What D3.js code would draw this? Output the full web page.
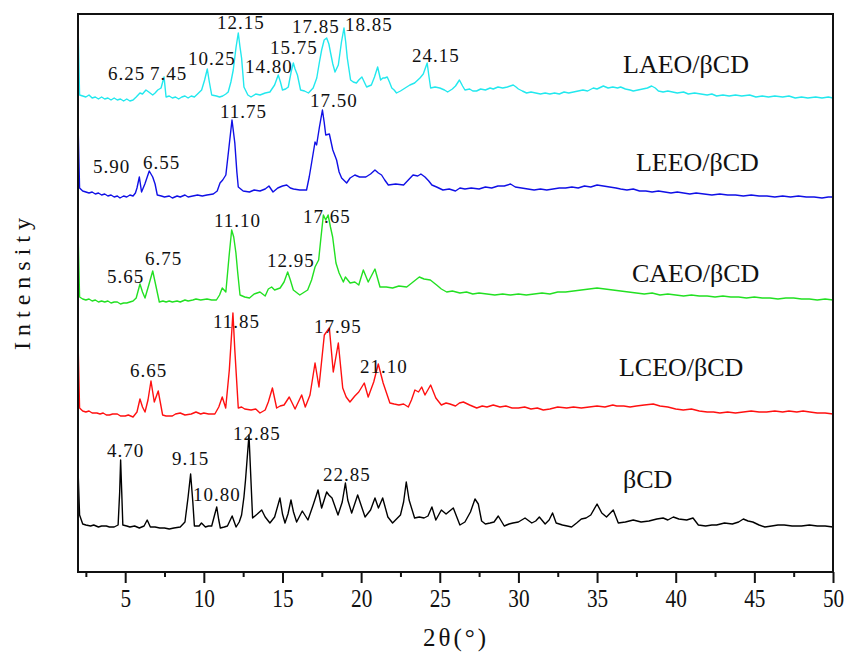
<!DOCTYPE html>
<html><head><meta charset="utf-8">
<script src="https://cdn.jsdelivr.net/npm/d3@7/dist/d3.min.js"></script>
<style>body{margin:0;background:#fff}</style>
</head><body>
<svg id="chart" width="846" height="655"></svg>
<script>
// ---------- data (2θ in degrees, stacked intensity in a.u.) ----------
const xMajorTicks = [5,10,15,20,25,30,35,40,45,50];
const xMinorTicks = [2.5,7.5,12.5,17.5,22.5,27.5,32.5,37.5,42.5,47.5];
const seriesNames = ["LAEO/βCD","LEEO/βCD","CAEO/βCD","LCEO/βCD","βCD"];
const seriesColors = ["#22e8ee","#1010e6","#22e022","#ff1010","#000000"];

const laeo = [[2.02,534],[2.1,477],[2.3,476],[2.5,475],[2.7,477],[2.9,474],[3.1,475],[3.3,473],[3.5,475],[3.7,473],[3.9,474],[4.1,472],[4.3,474],[4.5,472],[4.7,473],[4.9,471],[5.1,473],[5.3,471],[5.5,472],[5.7,475],[5.94,479],[6.1,478],[6.32,482],[6.5,480],[6.75,477],[6.9,479],[7.07,482],[7.28,484],[7.47,495],[7.6,475],[7.8,476],[8.0,474],[8.2,475],[8.4,473],[8.6,475],[8.8,476],[9.0,474],[9.2,476],[9.4,475],[9.6,478],[9.86,482],[10.05,492],[10.22,503],[10.35,490],[10.5,477],[10.8,476],[11.0,475],[11.2,476],[11.4,478],[11.55,480],[11.72,490],[11.87,502],[12.05,525],[12.19,539],[12.3,525],[12.4,514],[12.55,485],[12.8,477],[13.0,475],[13.3,478],[13.57,477],[13.9,479],[14.2,480],[14.5,487],[14.73,497],[14.87,490],[15.0,482],[15.2,483],[15.37,485],[15.55,500],[15.69,509],[15.8,503],[15.95,497],[16.15,482],[16.4,481],[16.65,479],[16.95,484],[17.18,494],[17.35,510],[17.49,522],[17.65,532],[17.81,534],[17.95,528],[18.06,519],[18.2,508],[18.34,500],[18.55,507],[18.75,530],[18.91,544],[19.02,530],[19.12,514],[19.33,492],[19.5,490],[19.7,489],[19.85,492],[20.05,495],[20.2,490],[20.35,485],[20.5,486],[20.65,487],[20.85,495],[21.05,505],[21.24,492],[21.38,494],[21.5,494],[21.66,495],[21.8,490],[21.95,484],[22.1,482],[22.25,479],[22.5,481],[22.8,484],[23.1,487],[23.4,489],[23.74,494],[23.95,498],[24.2,509],[24.3,497],[24.42,484],[24.7,485],[25.0,484],[25.3,482],[25.5,480],[25.8,483],[26.0,486],[26.25,492],[26.45,486],[26.6,482],[26.9,483],[27.1,481],[27.34,481],[27.6,483],[27.9,482],[28.2,484],[28.4,483],[28.7,485],[29.0,484],[29.3,485],[29.67,487],[29.85,485],[30.0,483],[30.25,481],[30.52,479],[30.8,480],[31.1,479],[31.4,478],[31.7,479],[32.0,478],[32.3,479],[32.6,478],[32.9,480],[33.2,479],[33.5,480],[33.8,481],[34.1,482],[34.4,481],[34.76,484],[35.0,483],[35.4,486],[35.7,484],[36.0,485],[36.3,484],[36.5,485],[36.8,483],[37.1,482],[37.3,481],[37.6,482],[37.9,483],[38.2,484],[38.47,486],[38.7,484],[38.9,481],[39.2,480],[39.5,481],[39.8,480],[40.1,479],[40.5,480],[40.8,478],[41.2,479],[41.6,478],[42.0,477],[42.3,478],[42.6,476],[43.0,477],[43.4,476],[43.8,477],[44.2,476],[44.7,477],[45.1,475],[45.5,476],[45.9,475],[46.3,476],[46.8,475],[47.2,476],[47.6,474],[48.0,475],[48.4,474],[48.9,475],[49.3,474],[49.7,475],[50.0,474]];

const leeo = [[2.02,437],[2.1,384],[2.3,381],[2.5,380],[2.7,379],[2.9,380],[3.1,378],[3.3,379],[3.5,377],[3.7,378],[3.9,376],[4.1,377],[4.3,375],[4.5,376],[4.67,374],[4.9,376],[5.1,375],[5.3,377],[5.5,376],[5.65,379],[5.75,384],[5.9,395],[6.04,380],[6.25,388],[6.53,401],[6.75,395],[6.9,388],[7.04,377],[7.3,376],[7.5,375],[7.8,376],[8.0,374],[8.3,376],[8.5,375],[8.8,377],[9.0,375],[9.3,376],[9.6,377],[9.9,376],[10.2,377],[10.6,378],[10.85,381],[11.03,389],[11.2,392],[11.4,397],[11.6,425],[11.79,452],[11.97,429],[12.1,400],[12.19,385],[12.5,381],[12.9,380],[13.2,382],[13.57,381],[13.9,383],[14.14,386],[14.4,380],[14.7,384],[15.0,386],[15.27,387],[15.5,384],[15.7,383],[16.1,382],[16.53,382],[16.7,395],[16.85,409],[17.07,430],[17.17,427],[17.35,445],[17.54,462],[17.65,450],[17.75,437],[17.98,438],[18.2,422],[18.44,412],[18.6,400],[18.76,394],[19.08,389],[19.3,394],[19.6,397],[19.9,395],[20.3,395],[20.6,398],[20.88,402],[21.1,399],[21.3,397],[21.5,392],[21.73,387],[22.2,388],[22.7,387],[23.0,392],[23.3,397],[23.6,396],[23.8,398],[24.06,395],[24.3,391],[24.5,387],[24.8,385],[25.2,382],[25.6,383],[26.0,381],[26.28,384],[26.6,383],[27.0,384],[27.5,383],[27.9,385],[28.3,384],[28.7,386],[29.1,386],[29.5,388],[29.8,385],[30.2,384],[30.6,383],[31.0,382],[31.4,383],[31.8,382],[32.2,383],[32.6,384],[33.0,384],[33.4,385],[33.8,384],[34.2,386],[34.6,385],[35.0,387],[35.4,386],[35.8,385],[36.2,384],[36.5,383],[36.9,382],[37.3,383],[37.7,381],[38.1,381],[38.5,380],[38.9,381],[39.3,380],[39.7,379],[40.1,380],[40.5,379],[40.9,378],[41.3,379],[41.8,378],[42.3,377],[42.8,378],[43.3,377],[43.8,377],[44.3,376],[44.8,377],[45.3,376],[45.8,376],[46.3,375],[46.8,376],[47.3,375],[47.8,376],[48.3,375],[48.8,375],[49.3,374],[49.7,375],[50.0,375]];

const caeo = [[2.02,329],[2.1,275],[2.3,273],[2.5,272],[2.7,273],[2.9,271],[3.1,272],[3.3,270],[3.5,271],[3.7,270],[3.9,271],[4.1,269],[4.3,270],[4.5,270],[4.7,268],[4.9,269],[5.1,269],[5.3,270],[5.5,271],[5.7,274],[5.94,288],[6.1,280],[6.26,274],[6.5,287],[6.75,301],[6.9,290],[7.17,270],[7.4,271],[7.6,270],[7.8,271],[8.0,270],[8.3,271],[8.5,270],[8.8,272],[9.0,271],[9.3,272],[9.5,273],[9.8,272],[10.2,273],[10.5,272],[10.8,272],[11.0,277],[11.17,284],[11.4,280],[11.6,315],[11.77,342],[11.9,335],[12.04,319],[12.15,300],[12.3,277],[12.6,275],[12.9,274],[13.2,278],[13.57,280],[13.9,276],[14.1,283],[14.31,285],[14.5,282],[14.85,284],[15.1,290],[15.33,300],[15.5,292],[15.69,282],[16.1,277],[16.4,280],[16.6,282],[16.85,292],[17.07,305],[17.3,312],[17.45,335],[17.6,357],[17.75,352],[17.9,357],[18.05,345],[18.19,335],[18.4,309],[18.6,299],[18.87,290],[19.0,295],[19.15,292],[19.3,289],[19.6,290],[19.85,287],[20.14,302],[20.45,290],[20.88,303],[21.2,285],[21.6,285],[22.0,284],[22.4,286],[22.9,285],[23.3,290],[23.7,295],[24.0,293],[24.4,292],[24.8,287],[25.1,283],[25.44,280],[25.8,281],[26.28,279],[26.7,280],[27.1,278],[27.5,279],[28.0,278],[28.5,277],[29.0,278],[29.5,277],[30.0,278],[30.5,277],[31.0,278],[31.5,279],[32.0,278],[32.5,280],[33.0,280],[33.5,281],[34.0,282],[34.5,283],[35.0,284],[35.5,283],[36.0,282],[36.5,281],[37.0,280],[37.5,279],[38.0,278],[38.5,279],[39.0,277],[39.5,278],[40.0,277],[40.5,276],[41.0,277],[41.5,276],[42.0,276],[42.5,275],[43.0,276],[43.5,275],[44.0,275],[44.5,274],[45.0,275],[45.5,274],[46.0,274],[46.5,273],[47.0,274],[47.5,274],[48.0,273],[48.5,273],[49.0,272],[49.5,273],[50.0,272]];

const lceo = [[2.02,219],[2.1,164],[2.3,161],[2.5,160],[2.7,161],[2.9,159],[3.2,159],[3.4,158],[3.6,159],[3.8,157],[4.0,157],[4.2,158],[4.5,158],[4.7,156],[5.0,156],[5.2,157],[5.5,155],[5.75,160],[5.94,173],[6.1,165],[6.26,160],[6.45,172],[6.64,191],[6.85,170],[7.1,181],[7.38,157],[7.6,156],[8.0,156],[8.2,158],[8.5,159],[8.8,157],[9.2,158],[9.5,160],[9.8,158],[10.0,159],[10.3,158],[10.7,158],[10.95,165],[11.17,175],[11.39,164],[11.62,202],[11.85,259],[11.97,222],[12.19,164],[12.4,165],[12.6,163],[13.0,162],[13.3,163],[13.57,159],[13.9,162],[14.1,170],[14.36,184],[14.63,164],[14.85,166],[15.1,167],[15.43,175],[15.8,163],[16.22,177],[16.45,165],[16.75,177],[17.07,209],[17.32,185],[17.66,237],[17.98,244],[18.23,200],[18.55,229],[18.83,184],[19.05,175],[19.29,170],[19.6,176],[19.85,180],[20.2,189],[20.45,175],[20.8,190],[21.09,208],[21.4,189],[21.83,169],[22.1,168],[22.4,167],[22.7,168],[23.0,165],[23.2,172],[23.42,182],[23.65,180],[23.85,185],[24.06,177],[24.42,187],[24.75,174],[25.1,167],[25.4,169],[25.65,168],[26.0,166],[26.25,169],[26.5,170],[26.9,167],[27.35,164],[27.7,166],[28.0,165],[28.4,167],[28.83,165],[29.2,166],[29.6,164],[30.0,164],[30.4,165],[30.8,163],[31.2,164],[31.58,162],[32.0,163],[32.5,165],[33.07,164],[33.5,165],[34.0,164],[34.5,165],[35.0,166],[35.5,165],[36.0,167],[36.25,166],[36.7,166],[37.1,165],[37.5,166],[38.0,167],[38.57,168],[39.0,166],[39.5,165],[40.0,163],[40.48,162],[41.0,163],[41.5,161],[42.0,160],[42.4,160],[42.81,159],[43.3,160],[43.8,159],[44.3,160],[44.8,161],[45.3,160],[45.78,160],[46.3,161],[46.8,160],[47.2,161],[47.7,160],[48.1,161],[48.53,160],[49.0,159],[49.5,159],[50.0,158]];

const bcd = [[2.02,94],[2.1,57],[2.3,48],[2.5,47],[2.8,46],[3.0,47],[3.3,45],[3.5,46],[3.8,46],[4.0,45],[4.3,45],[4.55,47],[4.65,80],[4.71,112],[4.78,80],[4.85,47],[5.1,46],[5.3,45],[5.6,46],[5.9,44],[6.2,46],[6.4,52],[6.6,45],[6.9,45],[7.2,44],[7.5,44],[7.8,43],[8.1,44],[8.5,45],[8.8,50],[9.0,75],[9.16,98],[9.3,70],[9.4,46],[9.7,46],[9.85,49],[10.1,45],[10.3,46],[10.5,46],[10.7,58],[10.82,65],[10.95,52],[11.05,44],[11.3,45],[11.5,46],[11.8,56],[12.05,45],[12.25,50],[12.4,57],[12.55,75],[12.65,92],[12.87,137],[13.0,90],[13.1,54],[13.4,58],[13.68,62],[13.9,55],[14.2,49],[14.5,55],[14.84,74],[15.0,58],[15.16,49],[15.35,58],[15.54,72],[15.7,60],[15.9,50],[16.26,61],[16.62,52],[16.95,67],[17.26,82],[17.49,64],[17.81,80],[17.95,77],[18.15,74],[18.53,57],[18.8,70],[19.0,89],[19.15,72],[19.4,59],[19.78,77],[20.25,55],[20.6,62],[20.88,74],[21.1,64],[21.37,74],[21.7,55],[22.0,49],[22.5,57],[22.7,70],[22.87,90],[23.05,72],[23.4,54],[23.7,55],[24.0,54],[24.25,56],[24.5,65],[24.75,52],[25.1,62],[25.4,58],[25.86,64],[26.28,47],[26.6,50],[26.95,60],[27.24,73],[27.45,68],[27.66,51],[27.9,48],[28.2,49],[28.45,50],[28.72,56],[29.1,46],[29.4,48],[29.65,49],[30.0,50],[30.42,54],[30.85,49],[31.1,51],[31.33,55],[31.7,48],[31.95,52],[32.17,59],[32.4,49],[32.8,47],[33.1,46],[33.38,45],[33.7,49],[34.0,53],[34.3,54],[34.6,57],[35.0,68],[35.3,59],[35.6,55],[36.03,62],[36.35,49],[36.8,50],[37.3,52],[37.8,50],[38.3,51],[38.8,53],[39.2,54],[39.5,52],[39.85,55],[40.2,53],[40.7,52],[41.1,54],[41.44,47],[41.9,46],[42.3,47],[42.6,47],[43.1,49],[43.6,48],[44.0,50],[44.3,53],[44.6,51],[44.9,50],[45.3,47],[45.67,45],[46.1,46],[46.5,47],[46.9,47],[47.4,46],[48.0,46],[48.5,47],[49.0,46],[49.5,46],[50.0,45]];

// peak annotations: [text, 2θ of left edge, baseline intensity]
const peaksLAEO = [["6.25",3.91,492],["7.45",6.58,492],["10.25",8.99,507],["12.15",10.84,543],["14.80",12.62,499],["15.75",14.21,518],["17.85",15.60,539],["18.85",18.97,541],["24.15",23.23,510]];
const peaksLEEO = [["5.90",2.95,399],["6.55",6.13,403],["11.75",11.03,454],["17.50",16.75,465]];
const peaksCAEO = [["5.65",3.84,289],["6.75",6.26,307],["11.10",10.65,345],["12.95",14.02,305],["17.65",16.30,349]];
const peaksLCEO = [["6.65",5.31,195],["11.85",10.58,244],["17.95",17.00,239],["21.10",19.93,199]];
const peaksBCD = [["4.70",3.84,115],["9.15",7.98,107],["10.80",9.31,71],["12.85",11.85,132],["22.85",17.58,91]];
// series name label anchors: [2θ of left edge, baseline intensity]
const nameAnchors = [[36.65,499],[37.47,401],[37.22,290],[36.39,196],[36.65,84]];

const xLabel = "2θ(°)";
const yLabel = "Intensity";

// ---------- drawing ----------
const svg = d3.select("#chart");
const L = 78, R = 833, T = 14, B = 572;
const x = d3.scaleLinear().domain([2, 50]).range([L, R]);
const y = d3.scaleLinear().domain([0, 558]).range([B, T]);

const allSeries = [laeo, leeo, caeo, lceo, bcd];
const allPeaks = [peaksLAEO, peaksLEEO, peaksCAEO, peaksLCEO, peaksBCD];

const line = d3.line().x(d => x(d[0])).y(d => y(d[1]));

allSeries.forEach((s, i) => {
  svg.append("path").datum(s)
    .attr("d", line)
    .attr("fill", "none")
    .attr("stroke", seriesColors[i])
    .attr("stroke-width", 1.4)
    .attr("stroke-linejoin", "round");
});

// frame
svg.append("rect").attr("x", L).attr("y", T).attr("width", R - L).attr("height", B - T)
  .attr("fill", "none").attr("stroke", "#111").attr("stroke-width", 2);

// x axis
const xAxis = d3.axisBottom(x).tickValues(xMajorTicks).tickSize(11).tickPadding(6).tickFormat(d3.format("d"));
const gx = svg.append("g").attr("transform", `translate(0,${B})`).call(xAxis);
gx.select(".domain").remove();
gx.selectAll(".tick line").attr("stroke", "#111").attr("stroke-width", 2);
gx.selectAll(".tick text").attr("font-family", "Liberation Serif, serif").attr("font-size", 25)
  .attr("transform", "scale(0.85,1)").attr("fill", "#111");

const xMinor = d3.axisBottom(x).tickValues(xMinorTicks).tickSize(5).tickFormat("");
const gm = svg.append("g").attr("transform", `translate(0,${B})`).call(xMinor);
gm.select(".domain").remove();
gm.selectAll(".tick line").attr("stroke", "#111").attr("stroke-width", 2);

// axis titles
svg.append("text").attr("x", 456).attr("y", 646).attr("text-anchor", "middle")
  .attr("font-family", "Liberation Serif, serif").attr("font-size", 25).attr("letter-spacing", 3)
  .attr("fill", "#111").text(xLabel);
svg.append("text").attr("transform", "translate(30,281) rotate(-90)").attr("text-anchor", "middle")
  .attr("font-family", "Liberation Serif, serif").attr("font-size", 24).attr("letter-spacing", 6)
  .attr("fill", "#111").text(yLabel);

// peak labels
allPeaks.forEach(arr => {
  svg.append("g").selectAll("text").data(arr).join("text")
    .attr("x", d => x(d[1])).attr("y", d => y(d[2]))
    .attr("font-family", "Liberation Serif, serif").attr("font-size", 19)
    .attr("letter-spacing", 1).attr("fill", "#111")
    .text(d => d[0]);
});

// series names
svg.append("g").selectAll("text").data(seriesNames).join("text")
  .attr("x", (d, i) => x(nameAnchors[i][0])).attr("y", (d, i) => y(nameAnchors[i][1]))
  .attr("font-family", "Liberation Serif, serif").attr("font-size", 26).attr("fill", "#111")
  .text(d => d);
</script>
</body></html>
